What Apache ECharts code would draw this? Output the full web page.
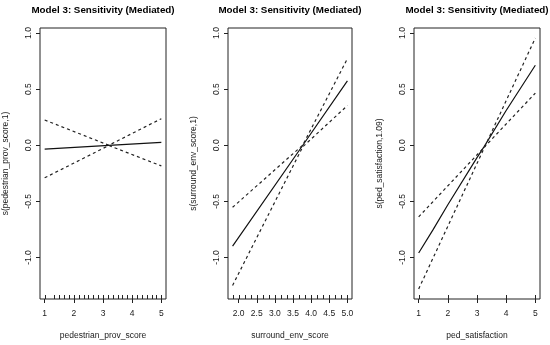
<!DOCTYPE html>
<html><head><meta charset="utf-8">
<script src="https://cdn.jsdelivr.net/npm/echarts@6/dist/echarts.min.js"></script>
<style>html,body{margin:0;padding:0;background:#fff}#c{width:550px;height:345px}</style>
</head><body><div id="c"></div>
<script>
const titleText = 'Model 3: Sensitivity (Mediated)';
const xNames = ['pedestrian_prov_score', 'surround_env_score', 'ped_satisfaction'];
const yNames = ['s(pedestrian_prov_score,1)', 's(surround_env_score,1)', 's(ped_satisfaction,1.09)'];
const yTicks = [-1.0, -0.5, 0.0, 0.5, 1.0];
const x1Ticks = [1, 2, 3, 4, 5];
const x2Ticks = [2.0, 2.5, 3.0, 3.5, 4.0, 4.5, 5.0];
const x3Ticks = [1, 2, 3, 4, 5];

// Panel 1: pedestrian_prov_score
const p1X = [1, 3.2, 5];
const p1Fit = [-0.035, -0.001, 0.026];
const p1Upper = [0.225, 0.0, 0.237];
const p1Lower = [-0.29, -0.002, -0.184];
const p1Rug = [1, 1.333, 1.5, 1.667, 1.833, 2, 2.167, 2.333, 2.5, 2.667, 2.833, 3, 3.167, 3.333, 3.5, 3.667, 3.833, 4, 4.167, 4.333, 4.5, 4.667, 4.833, 5];

// Panel 2: surround_env_score
const p2X = [1.833, 3.77, 5];
const p2Fit = [-0.898, 0.0, 0.573];
const p2Upper = [-0.553, 0.002, 0.772];
const p2Lower = [-1.249, -0.013, 0.354];
const p2Rug = [1.833, 2, 2.167, 2.333, 2.5, 2.667, 2.833, 3, 3.167, 3.333, 3.5, 3.667, 3.833, 4, 4.167, 4.333, 4.5, 4.667, 4.833, 5];

// Panel 3: ped_satisfaction
const p3FitX = [1, 1.5, 2, 3, 3.25, 4, 5];
const p3Fit = [-0.96, -0.75, -0.53, -0.11, -0.01, 0.31, 0.713];
const p3BandX = [1, 3.27, 5];
const p3Upper = [-0.638, -0.011, 0.956];
const p3Lower = [-1.281, -0.011, 0.465];
const p3Rug = [1, 2, 3, 4, 5];

const Y_MIN = -1.37, Y_MAX = 1.045;
const FONT = 'Liberation Sans';
const TXT = '#1a1a1a';

const grids = [
  {left: 40, top: 28, width: 126, height: 275},
  {left: 228, top: 28, width: 124, height: 275},
  {left: 414, top: 28, width: 126, height: 275}
];
const xRanges = [[0.84, 5.16], [1.7067, 5.1267], [0.84, 5.16]];
const xTickSets = [x1Ticks, x2Ticks, x3Ticks];
const xFmt = [v => String(Math.round(v)), v => Number(v).toFixed(1), v => String(Math.round(v))];

const zip = (xs, ys) => xs.map((x, i) => [x, ys[i]]);

const option = {
  animation: false,
  backgroundColor: '#fff',
  title: grids.map(g => ({
    text: titleText, left: g.left + g.width / 2, top: 5, textAlign: 'center', padding: 0,
    textStyle: {fontSize: 9.8, fontWeight: 'bold', fontFamily: FONT, color: '#000'}
  })),
  grid: grids.map(g => Object.assign({show: true, borderColor: '#222', borderWidth: 1, backgroundColor: 'transparent'}, g)),
  xAxis: grids.map((g, i) => ({
    type: 'value', gridIndex: i, min: xRanges[i][0], max: xRanges[i][1], position: 'bottom',
    name: xNames[i], nameLocation: 'middle', nameGap: 32,
    nameTextStyle: {fontSize: 8.5, fontFamily: FONT, color: TXT},
    axisLine: {show: false, onZero: false}, splitLine: {show: false},
    axisTick: {show: true, inside: false, length: 4, customValues: xTickSets[i], lineStyle: {color: '#222'}},
    axisLabel: {show: true, customValues: xTickSets[i], margin: 10.5, fontSize: 8.5, fontFamily: FONT, color: TXT, formatter: xFmt[i]}
  })),
  yAxis: grids.map((g, i) => ({
    type: 'value', gridIndex: i, min: Y_MIN, max: Y_MAX, position: 'left',
    name: yNames[i], nameLocation: 'middle', nameGap: 30, nameRotate: 90,
    nameTextStyle: {fontSize: 8.5, fontFamily: FONT, color: TXT},
    axisLine: {show: false, onZero: false}, splitLine: {show: false},
    axisTick: {show: true, inside: false, length: 4, customValues: yTicks, lineStyle: {color: '#222'}},
    axisLabel: {show: true, customValues: yTicks, rotate: 90, margin: 7, fontSize: 8.5, fontFamily: FONT, color: TXT,
      formatter: v => Number(v).toFixed(1)}
  })),
  series: []
};

function rugItem(params, api) {
  const p = api.coord([api.value(0), Y_MIN]);
  const x = Math.round(p[0]) + 0.5;
  return {type: 'line', shape: {x1: x, y1: p[1], x2: x, y2: p[1] - 4},
    style: {stroke: '#222', lineWidth: 1}};
}

function addPanel(i, fitX, fit, bandX, up, lo, rug) {
  const solid = {type: 'line', xAxisIndex: i, yAxisIndex: i, showSymbol: false, symbol: 'none', z: 3,
    lineStyle: {color: '#111', width: 1.2, type: 'solid'}, data: zip(fitX, fit)};
  const dashU = {type: 'line', xAxisIndex: i, yAxisIndex: i, showSymbol: false, symbol: 'none', z: 3,
    lineStyle: {color: '#222', width: 1.2, type: [3, 3]}, data: zip(bandX, up)};
  const dashL = Object.assign({}, dashU, {data: zip(bandX, lo)});
  const rugS = {type: 'custom', xAxisIndex: i, yAxisIndex: i, clip: false, z: 5,
    renderItem: rugItem, encode: {x: 0, y: 1},
    data: rug.map(x => [x, Y_MIN])};
  option.series.push(solid, dashU, dashL, rugS);
}
addPanel(0, p1X, p1Fit, p1X, p1Upper, p1Lower, p1Rug);
addPanel(1, p2X, p2Fit, p2X, p2Upper, p2Lower, p2Rug);
addPanel(2, p3FitX, p3Fit, p3BandX, p3Upper, p3Lower, p3Rug);

const chart = echarts.init(document.getElementById('c'), null, {renderer: 'canvas'});
chart.setOption(option);
</script>
</body></html>
